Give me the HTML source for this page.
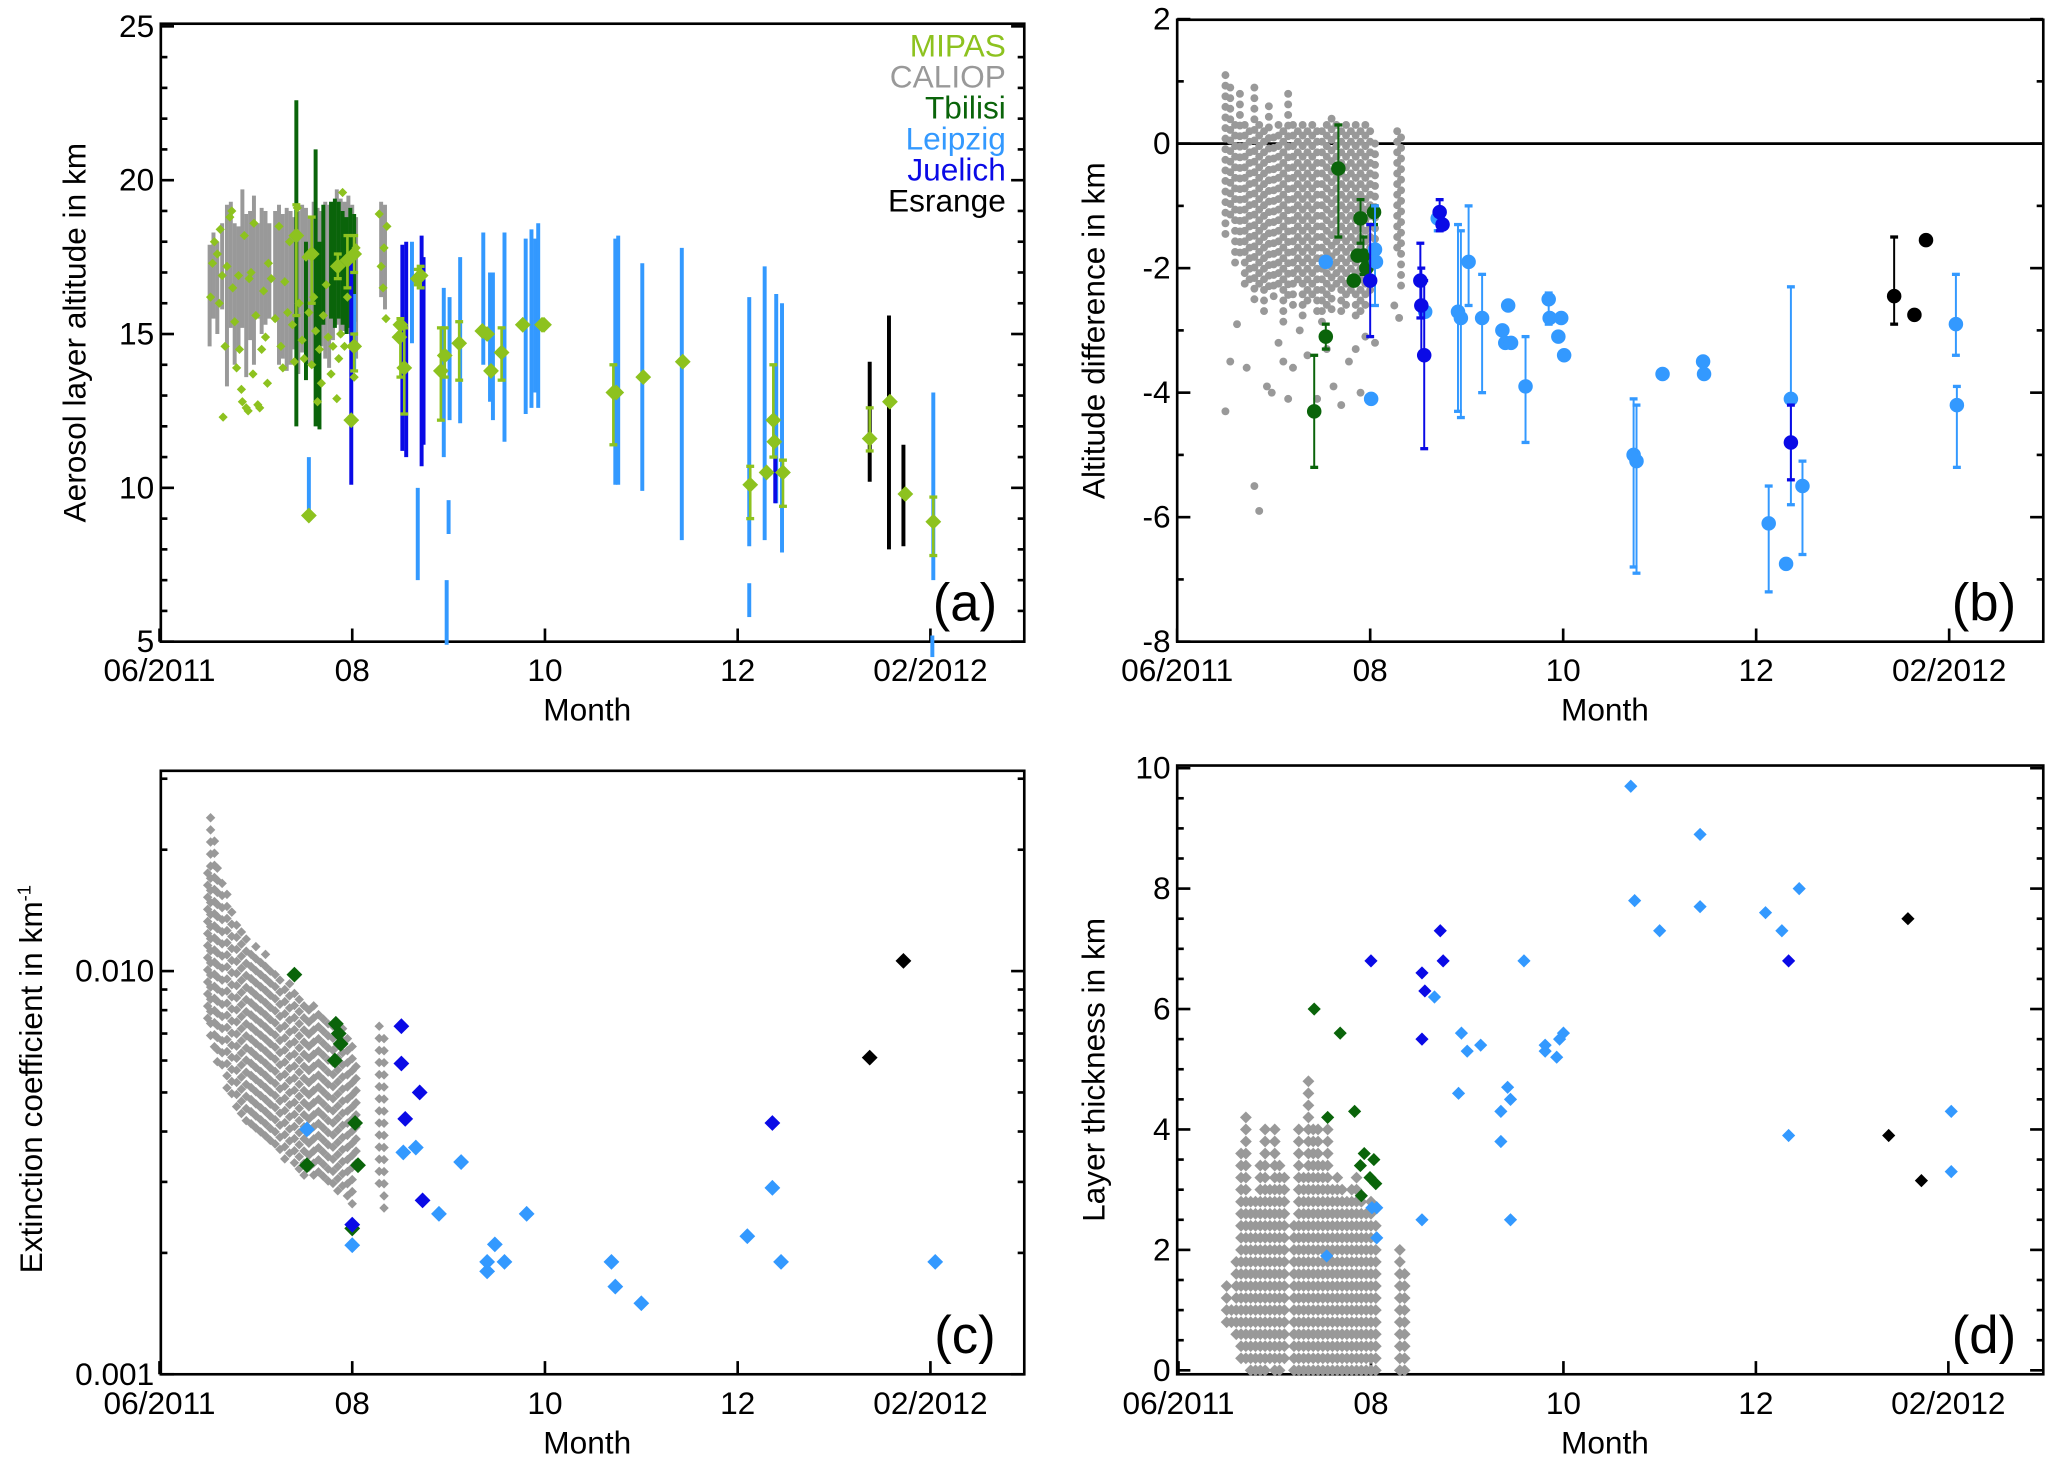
<!DOCTYPE html>
<html><head><meta charset="utf-8"><style>
html,body{margin:0;padding:0;background:#fff}
svg{display:block}
text{font-family:"Liberation Sans",Helvetica,Arial,sans-serif}
</style></head><body>
<svg id="fig" xmlns="http://www.w3.org/2000/svg" width="2067" height="1481" viewBox="0 0 1568 1124" preserveAspectRatio="none"></svg>
<script>
// ---------- DATA (months since 1 Jun 2011) ----------
const monthTicks=[0,2,4,6,8];
const monthLabels=["06/2011","08","10","12","02/2012"];
// Panel a
const caliopA=[[0.52,14.6,17.9],[0.56,15.5,18.3],[0.6,15.0,18.0],[0.65,15.8,18.6],[0.7,13.3,19.2],[0.74,15.2,19.3],[0.78,14.0,18.6],[0.82,14.5,18.5],[0.86,15.2,19.7],[0.9,13.6,18.9],[0.94,14.8,19.0],[0.98,14.0,19.5],[1.02,15.5,18.6],[1.06,15.0,19.1],[1.1,15.3,19.0],[1.14,15.5,18.6],[1.2,15.4,19.0],[1.24,14.0,19.2],[1.28,14.2,18.9],[1.32,13.8,19.1],[1.36,14.0,19.0],[1.4,14.5,18.8],[1.44,13.7,19.0],[1.48,14.4,19.2],[1.52,13.9,19.1],[1.56,14.0,18.8],[1.6,13.9,19.3],[1.64,14.8,19.1],[1.68,14.6,19.0],[1.72,14.2,19.3],[1.76,13.9,19.2],[1.8,14.8,19.2],[1.84,15.3,19.7],[1.88,14.9,19.4],[1.92,15.1,19.3],[1.96,15.0,19.5],[2.0,15.4,19.2],[2.04,14.2,18.8],[2.3,16.2,19.3],[2.34,15.8,19.2]];
const tbilisiA=[[1.42,12.0,22.6],[1.52,13.5,18.0],[1.62,12.0,21.0],[1.66,11.9,18.0],[1.7,15.3,19.2],[1.78,15.5,19.3],[1.82,15.2,19.4],[1.86,15.5,19.3],[1.9,15.3,19.0],[1.94,15.0,18.8],[1.98,15.2,19.1],[2.02,15.4,18.9]];
const leipzigA=[[1.55,9.1,11.0],[2.02,13.8,16.3],[2.68,7.0,10.0],[2.62,14.7,18.0],[2.95,11.0,16.5],[2.98,4.9,7.0],[3.0,8.5,9.6],[3.01,12.2,16.2],[3.12,12.1,17.5],[3.36,14.0,18.3],[3.43,12.8,17.0],[3.46,12.2,17.0],[3.58,11.5,18.3],[3.8,12.4,18.1],[3.86,12.6,18.4],[3.9,13.1,18.1],[3.93,12.6,18.6],[4.73,10.1,18.1],[4.76,10.1,18.2],[5.01,9.9,17.3],[5.42,8.3,17.8],[6.12,8.1,16.2],[6.12,5.8,6.9],[6.28,8.3,17.2],[6.4,9.5,16.3],[6.46,7.9,16.0],[8.03,7.0,13.1],[8.02,4.5,5.2]];
const juelichA=[[1.99,10.1,17.3],[2.52,11.2,17.9],[2.56,11.0,18.0],[2.72,10.7,18.2],[2.74,11.4,17.5],[6.39,9.5,11.0]];
const esrangeA=[[7.37,10.2,14.1],[7.57,8.0,15.6],[7.72,8.1,11.4]];
const mipasSmall=[[0.53,16.2],[0.55,17.3],[0.57,18.0],[0.6,17.6],[0.62,16.0],[0.63,18.4],[0.65,16.9],[0.66,12.3],[0.68,14.6],[0.7,17.2],[0.73,18.8],[0.75,19.0],[0.76,16.5],[0.78,15.4],[0.8,13.9],[0.82,16.9],[0.83,14.5],[0.85,13.2],[0.86,12.8],[0.88,18.2],[0.9,12.6],[0.92,12.5],[0.93,16.8],[0.95,17.0],[0.97,13.7],[0.98,18.6],[1.0,15.6],[1.02,12.7],[1.04,12.6],[1.06,14.5],[1.08,16.4],[1.1,14.9],[1.12,13.4],[1.13,17.3],[1.16,16.8],[1.2,15.5],[1.24,18.5],[1.26,14.6],[1.28,13.9],[1.3,16.7],[1.33,15.7],[1.35,18.0],[1.38,15.3],[1.4,14.1],[1.43,19.1],[1.45,16.0],[1.48,14.8],[1.5,14.2],[1.52,17.5],[1.55,15.7],[1.58,14.0],[1.6,16.2],[1.62,15.1],[1.64,12.8],[1.66,14.5],[1.68,13.4],[1.7,15.6],[1.73,16.6],[1.75,14.9],[1.78,13.7],[1.8,14.6],[1.82,17.2],[1.84,12.9],[1.86,14.2],[1.88,15.0],[1.9,19.6],[1.92,14.6],[1.95,16.2],[1.97,17.4],[2.02,13.6],[2.04,17.8],[2.28,18.9],[2.3,17.2],[2.32,16.5],[2.33,17.8],[2.35,15.5],[2.36,18.5]];
const mipasBig=[[1.42,18.2,15.6,19.2],[1.55,9.1,9.1,9.1],[1.58,17.6,16.0,18.8],[1.85,17.2,16.8,17.6],[1.95,17.4,16.5,18.2],[1.99,12.2,12.2,12.2],[2.02,14.6,13.8,15.0],[2.02,17.6,17.0,18.2],[2.5,15.3,13.6,15.5],[2.49,14.9,14.9,14.9],[2.54,13.9,12.4,15.2],[2.68,16.8,16.6,17.1],[2.71,16.9,16.5,17.2],[2.92,13.8,12.2,15.2],[2.96,14.3,13.6,15.2],[3.11,14.7,13.5,15.4],[3.35,15.1,15.1,15.1],[3.4,15.0,15.0,15.0],[3.44,13.8,13.8,13.8],[3.55,14.4,13.5,15.2],[3.77,15.3,15.3,15.3],[3.97,15.3,15.3,15.3],[3.99,15.3,15.3,15.3],[4.71,13.1,11.4,14.0],[4.74,13.1,13.1,13.1],[5.02,13.6,13.6,13.6],[5.43,14.1,14.1,14.1],[6.13,10.1,9.0,10.7],[6.3,10.5,10.5,10.5],[6.37,12.2,11.0,14.0],[6.38,11.5,11.5,11.5],[6.47,10.5,9.4,10.9],[7.37,11.6,11.2,12.6],[7.58,12.8,12.8,12.8],[7.74,9.8,9.8,9.8],[8.03,8.9,7.8,9.7]];
// Panel b
const caliopBcols=[[0.5,-1.6,1.1],[0.55,-1.3,0.9],[0.6,-2.0,0.3],[0.65,-1.8,0.8],[0.7,-2.4,0.3],[0.75,-2.2,0.2],[0.8,-2.5,0.9],[0.85,-2.3,0.3],[0.9,-2.8,0.2],[0.95,-2.3,0.6],[1.0,-2.6,0.1],[1.05,-2.4,0.3],[1.1,-2.9,0.2],[1.15,-2.5,0.8],[1.2,-2.6,0.3],[1.25,-2.3,0.2],[1.3,-2.8,0.3],[1.35,-2.6,0.2],[1.4,-2.5,0.3],[1.45,-2.7,0.2],[1.5,-2.9,0.2],[1.55,-2.6,0.3],[1.6,-2.8,0.4],[1.65,-2.4,0.3],[1.7,-2.7,0.2],[1.75,-2.6,0.3],[1.8,-2.5,0.2],[1.85,-2.8,0.3],[1.9,-2.7,0.2],[1.95,-2.6,0.3],[2.0,-2.4,0.2],[2.05,-2.0,0.0],[2.28,-1.8,0.2],[2.32,-2.3,0.1]];
const caliopBout=[[0.55,-3.5],[0.5,-4.3],[0.62,-2.9],[0.72,-3.6],[0.8,-5.5],[0.85,-5.9],[0.93,-3.9],[0.98,-4.0],[1.05,-3.2],[1.1,-3.5],[1.15,-4.1],[1.2,-3.6],[1.27,-3.0],[1.35,-3.4],[1.45,-4.1],[1.55,-3.3],[1.62,-3.9],[1.7,-4.2],[1.78,-3.5],[1.85,-3.3],[1.9,-4.0],[1.95,-3.1],[2.05,-3.2],[2.25,-2.6],[2.3,-2.8]];
const tbilisiB=[[1.42,-4.3,-3.4,-5.2],[1.54,-3.1,-2.9,-3.3],[1.67,-0.4,0.3,-1.5],[1.83,-2.2,-2.2,-2.2],[1.87,-1.8,-1.8,-1.8],[1.9,-1.2,-0.9,-1.6],[1.93,-1.8,-1.5,-2.1],[1.96,-2.0,-2.0,-2.0],[2.04,-1.1,-1.0,-1.3]];
const leipzigB=[[1.54,-1.9,-1.9,-1.9],[2.01,-4.1,-4.1,-4.1],[2.05,-1.7,-1.0,-2.6],[2.06,-1.9,-1.9,-1.9],[2.57,-2.7,-2.7,-2.7],[2.7,-1.2,-1.1,-1.4],[2.91,-2.7,-1.3,-4.3],[2.94,-2.8,-1.4,-4.4],[3.02,-1.9,-1.0,-2.6],[3.16,-2.8,-2.1,-4.0],[3.37,-3.0,-3.0,-3.0],[3.4,-3.2,-3.2,-3.2],[3.43,-2.6,-2.6,-2.6],[3.46,-3.2,-3.2,-3.2],[3.61,-3.9,-3.1,-4.8],[3.85,-2.5,-2.4,-2.9],[3.86,-2.8,-2.8,-2.8],[3.95,-3.1,-3.1,-3.1],[3.98,-2.8,-2.8,-2.8],[4.01,-3.4,-3.4,-3.4],[4.73,-5.0,-4.1,-6.8],[4.76,-5.1,-4.2,-6.9],[5.03,-3.7,-3.7,-3.7],[5.45,-3.5,-3.5,-3.5],[5.46,-3.7,-3.7,-3.7],[6.13,-6.1,-5.5,-7.2],[6.31,-6.75,-6.75,-6.75],[6.36,-4.1,-2.3,-5.8],[6.48,-5.5,-5.1,-6.6],[8.07,-2.9,-2.1,-3.4],[8.08,-4.2,-3.9,-5.2]];
const juelichB=[[2.0,-2.2,-1.3,-3.1],[2.52,-2.2,-1.6,-2.8],[2.53,-2.6,-2.0,-3.4],[2.56,-3.4,-2.2,-4.9],[2.72,-1.1,-0.9,-1.4],[2.75,-1.3,-1.3,-1.3],[6.36,-4.8,-4.2,-5.4]];
const esrangeB=[[7.43,-2.45,-1.5,-2.9],[7.64,-2.75,-2.75,-2.75],[7.76,-1.55,-1.55,-1.55]];
// Panel c
const caliopCcols=[[0.5,0.0074,0.0175],[0.53,0.0068,0.024],[0.57,0.0062,0.021],[0.6,0.0058,0.018],[0.65,0.0055,0.0165],[0.7,0.005,0.0155],[0.75,0.0047,0.014],[0.8,0.0045,0.013],[0.85,0.0042,0.0125],[0.9,0.0041,0.012],[0.95,0.004,0.011],[1.0,0.0039,0.0115],[1.05,0.0038,0.0105],[1.1,0.0037,0.011],[1.15,0.0036,0.01],[1.2,0.0035,0.0098],[1.25,0.0034,0.0095],[1.3,0.0033,0.009],[1.35,0.0033,0.0093],[1.4,0.0032,0.0088],[1.45,0.0032,0.0085],[1.5,0.0031,0.0082],[1.55,0.0031,0.008],[1.6,0.003,0.0082],[1.65,0.003,0.0078],[1.7,0.0029,0.0076],[1.75,0.0029,0.0074],[1.8,0.0028,0.0073],[1.85,0.0028,0.007],[1.9,0.0028,0.0072],[1.95,0.0027,0.0068],[2.0,0.0026,0.0065],[2.04,0.0033,0.0058],[2.28,0.0028,0.0073],[2.33,0.0025,0.0068]];
const leipzigC=[[1.53,0.00405],[2.0,0.00209],[2.53,0.00355],[2.66,0.00365],[3.13,0.00336],[2.9,0.0025],[3.4,0.0019],[3.4,0.0018],[3.48,0.0021],[3.58,0.0019],[3.81,0.0025],[4.69,0.0019],[4.73,0.00165],[5.0,0.0015],[6.1,0.0022],[6.36,0.0029],[6.45,0.0019],[8.05,0.0019]];
const juelichC=[[2.51,0.0073],[2.51,0.0059],[2.55,0.0043],[2.7,0.0050],[2.73,0.0027],[2.0,0.00235],[6.36,0.0042]];
const tbilisiC=[[1.4,0.0098],[1.53,0.0033],[1.83,0.0074],[1.86,0.0070],[1.88,0.0066],[1.82,0.0060],[2.03,0.0042],[2.06,0.0033],[2.0,0.0023]];
const esrangeC=[[7.37,0.0061],[7.72,0.0106]];
// Panel d
const caliopDcols=[[0.5,0.8,1.4],[0.55,0.8,1.0],[0.6,0.6,1.8],[0.65,0.2,3.6],[0.7,0.2,4.2],[0.75,0.0,2.8],[0.8,0.0,2.8],[0.85,0.0,3.4],[0.9,0.0,4.0],[0.95,0.2,3.0],[1.0,0.0,4.0],[1.05,0.0,3.4],[1.1,0.2,3.2],[1.2,0.0,2.4],[1.25,0.0,4.0],[1.3,0.0,3.2],[1.35,0.0,4.8],[1.4,0.0,4.0],[1.45,0.0,4.0],[1.5,0.0,3.4],[1.55,0.0,4.0],[1.6,0.0,3.0],[1.65,0.0,3.2],[1.7,0.0,3.0],[1.75,0.0,2.8],[1.8,0.0,3.0],[1.85,0.0,3.2],[1.9,0.0,2.8],[1.95,0.0,2.6],[2.0,0.0,2.8],[2.05,0.0,2.4],[2.3,0.0,2.0],[2.35,0.0,1.6]];
const leipzigD=[[1.54,1.9],[2.01,2.7],[2.06,2.7],[2.06,2.2],[2.53,2.5],[2.66,6.2],[2.91,4.6],[2.94,5.6],[3.0,5.3],[3.14,5.4],[3.35,3.8],[3.35,4.3],[3.42,4.7],[3.45,2.5],[3.45,4.5],[3.59,6.8],[3.81,5.3],[3.81,5.4],[3.93,5.2],[3.96,5.5],[4.0,5.6],[4.7,9.7],[4.74,7.8],[5.0,7.3],[5.42,8.9],[5.42,7.7],[6.1,7.6],[6.27,7.3],[6.34,3.9],[6.45,8.0],[8.03,4.3],[8.03,3.3]];
const juelichD=[[2.0,6.8],[2.53,6.6],[2.56,6.3],[2.53,5.5],[2.72,7.3],[2.75,6.8],[6.34,6.8]];
const tbilisiD=[[1.41,6.0],[1.68,5.6],[1.55,4.2],[1.83,4.3],[1.89,3.4],[1.93,3.6],[1.9,2.9],[2.03,3.5],[1.99,3.2],[2.05,3.1]];
const esrangeD=[[7.38,3.9],[7.58,7.5],[7.72,3.15]];

const C={mipas:"#8dc21f",caliop:"#999999",tbilisi:"#0a640a",leipzig:"#3399ff",juelich:"#0a0ae6",esrange:"#000000"};
const NS="http://www.w3.org/2000/svg";
const svg=document.getElementById('fig');
function mk(tag,attrs,parent){const e=document.createElementNS(NS,tag);for(const k in attrs)e.setAttribute(k,attrs[k]);(parent||svg).appendChild(e);return e;}
function txt(s,x,y,size,anchor,parent,fill){const t=mk('text',{x:x,y:y,'font-size':size,'text-anchor':anchor||'middle'},parent);t.style.fill=fill||'#000';t.textContent=s;return t;}
function diamond(x,y,r,col,g){const p=mk('polygon',{points:`${x},${y-r} ${x+r},${y} ${x},${y+r} ${x-r},${y}`,fill:col},g);return p;}

function panel(name,box,xs,ys,yt,ylab,ytitle,ytx,letter){
  const g=mk('g',{});
  
  
  const ax=mk('g',{},g);
  
  
  mk('rect',{x:box.l,y:box.t,width:box.r-box.l,height:box.b-box.t,fill:'none',stroke:'#000','stroke-width':2},ax);
  yt.major.forEach((v,i)=>{const y=ys(v);mk('line',{x1:box.l,x2:box.l+10,y1:y,y2:y,stroke:'#000','stroke-width':2},ax);mk('line',{x1:box.r,x2:box.r-10,y1:y,y2:y,stroke:'#000','stroke-width':2},ax);
    const t=txt(ylab[i],box.l-5,y+8,24,'end',ax);});
  yt.minor.forEach(v=>{const y=ys(v);mk('line',{x1:box.l,x2:box.l+5,y1:y,y2:y,stroke:'#000','stroke-width':2},ax);mk('line',{x1:box.r,x2:box.r-5,y1:y,y2:y,stroke:'#000','stroke-width':2},ax);});
  monthTicks.forEach((m,i)=>{const x=xs(m);mk('line',{x1:x,x2:x,y1:box.b,y2:box.b-10,stroke:'#000','stroke-width':2},ax);
    const t=txt(monthLabels[i],x,box.b+30,24,'middle',ax);});
  const xt=txt('Month',(box.l+box.r)/2-4,box.b+60,24,'middle',ax);
  
  if(ytitle){const yti=txt(ytitle,0,0,24,'middle',ax);
  yti.setAttribute('transform',`translate(${ytx},${(box.t+box.b)/2}) rotate(-90)`);
  }
  const pl=txt(letter,box.r-45,box.b-16,40,'middle',ax);
  
  return g;
}
function vbar(g,x,y1,y2,col,w,cap){mk('line',{x1:x,x2:x,y1:y1,y2:y2,stroke:col,'stroke-width':w},g);if(cap){mk('line',{x1:x-3,x2:x+3,y1:y1,y2:y1,stroke:col,'stroke-width':2.5},g);mk('line',{x1:x-3,x2:x+3,y1:y2,y2:y2,stroke:col,'stroke-width':2.5},g);}}

// ---------- Panel a ----------
{const box={l:122,r:777,t:18,b:487};const xs=m=>121+m*73.1;const ys=v=>487-(v-5)*23.35;
 const maj=[5,10,15,20,25],mn=[];for(let v=6;v<25;v++)if(v%5)mn.push(v);
 const g=panel('panel-a-altitude',box,xs,ys,{major:maj,minor:mn},maj.map(String),'Aerosol layer altitude in km',65,'(a)');
 const s=mk('g',{},g);
 caliopA.forEach(d=>vbar(s,xs(d[0]),ys(d[1]),ys(d[2]),C.caliop,3,false));
 const t=mk('g',{},g);
 tbilisiA.forEach(d=>vbar(t,xs(d[0]),ys(d[1]),ys(d[2]),C.tbilisi,3,false));
 const l=mk('g',{},g);
 leipzigA.forEach(d=>vbar(l,xs(d[0]),ys(d[1]),ys(d[2]),C.leipzig,3,false));
 const j=mk('g',{},g);
 juelichA.forEach(d=>vbar(j,xs(d[0]),ys(d[1]),ys(d[2]),C.juelich,3,false));
 const e=mk('g',{},g);
 esrangeA.forEach(d=>vbar(e,xs(d[0]),ys(d[1]),ys(d[2]),C.esrange,3,false));
 const mp=mk('g',{},g);
 mipasSmall.forEach(d=>diamond(xs(d[0]),ys(d[1]),3.5,C.mipas,mp));
 mipasBig.forEach(d=>{if(d[2]!==d[3])vbar(mp,xs(d[0]),ys(d[2]),ys(d[3]),C.mipas,2,true);diamond(xs(d[0]),ys(d[1]),6,C.mipas,mp);});
 const lg=mk('g',{},g);
 [['MIPAS',C.mipas],['CALIOP',C.caliop],['Tbilisi',C.tbilisi],['Leipzig',C.leipzig],['Juelich',C.juelich],['Esrange',C.esrange]].forEach((it,i)=>{
   const tt=txt(it[0],763,43+i*23.5,24,'end',lg,it[1]);
   });
}
// ---------- Panel b ----------
{const box={l:893,r:1550,t:15,b:487};const xs=m=>893+m*73.2;const ys=v=>109-v*47.25;
 const maj=[2,0,-2,-4,-6,-8],mn=[1,-1,-3,-5,-7];
 const g=panel('panel-b-altitude-difference',box,xs,ys,{major:maj,minor:mn},maj.map(String),'Altitude difference in km',838,'(b)');
 mk('line',{x1:box.l,x2:box.r,y1:ys(0),y2:ys(0),stroke:'#000','stroke-width':2},g);
 const s=mk('g',{},g);
 caliopBcols.forEach(c=>{for(let v=c[2];v>=c[1]-1e-9;v-=0.17)mk('circle',{cx:xs(c[0]),cy:ys(v),r:3,fill:C.caliop},s);});
 caliopBout.forEach(d=>mk('circle',{cx:xs(d[0]),cy:ys(d[1]),r:3,fill:C.caliop},s));
 [['tbilisi',tbilisiB,C.tbilisi],['leipzig',leipzigB,C.leipzig],['juelich',juelichB,C.juelich],['esrange',esrangeB,C.esrange]].forEach(sr=>{
   const gg=mk('g',{},g);
   sr[1].forEach(d=>{if(d[2]!==d[3])vbar(gg,xs(d[0]),ys(d[2]),ys(d[3]),sr[2],1.5,true);mk('circle',{cx:xs(d[0]),cy:ys(d[1]),r:5.5,fill:sr[2]},gg);});});
}
// ---------- Panel c ----------
{const box={l:122,r:777,t:585,b:1043};const xs=m=>121+m*73.1;const ys=v=>1043-(Math.log10(v)+3)*306;
 const maj=[0.001,0.01],mn=[0.002,0.003,0.004,0.005,0.006,0.007,0.008,0.009,0.02,0.03];
 const g=panel('panel-c-extinction',box,xs,ys,{major:maj,minor:mn},['0.001','0.010'],'',0,'(c)');
 const yt=txt('Extinction coefficient in km',0,0,24,'middle',g);
 const sup=mk('tspan',{dy:-9,'font-size':14},yt);sup.textContent='-1';
 yt.setAttribute('transform',`translate(32,${(box.t+box.b)/2+5}) rotate(-90)`);
 
 const s=mk('g',{},g);
 caliopCcols.forEach(c=>{for(let e=Math.log10(c[2]);e>=Math.log10(c[1])-1e-9;e-=0.03)diamond(xs(c[0]),ys(Math.pow(10,e)),3.6,C.caliop,s);});
 [['tbilisi',tbilisiC,C.tbilisi],['leipzig',leipzigC,C.leipzig],['juelich',juelichC,C.juelich],['esrange',esrangeC,C.esrange]].forEach(sr=>{
   const gg=mk('g',{},g);
   sr[1].forEach(d=>diamond(xs(d[0]),ys(d[1]),6,sr[2],gg));});
}
// ---------- Panel d ----------
{const box={l:893,r:1550,t:581,b:1043};const xs=m=>894+m*73.0;const ys=v=>1040-v*45.7;
 const maj=[0,2,4,6,8,10],mn=[];for(let v=0.5;v<10;v+=0.5)if(v%2)mn.push(v);
 const g=panel('panel-d-thickness',box,xs,ys,{major:maj,minor:mn},maj.map(String),'Layer thickness in km',838,'(d)');
 const s=mk('g',{},g);
 caliopDcols.forEach(c=>{for(let v=c[1];v<=c[2]+1e-9;v+=0.2)diamond(xs(c[0]),ys(v),4.5,C.caliop,s);});
 [['tbilisi',tbilisiD,C.tbilisi],['leipzig',leipzigD,C.leipzig],['juelich',juelichD,C.juelich],['esrange',esrangeD,C.esrange]].forEach(sr=>{
   const gg=mk('g',{},g);
   sr[1].forEach(d=>diamond(xs(d[0]),ys(d[1]),5,sr[2],gg));});
}
</script>
</body></html>
